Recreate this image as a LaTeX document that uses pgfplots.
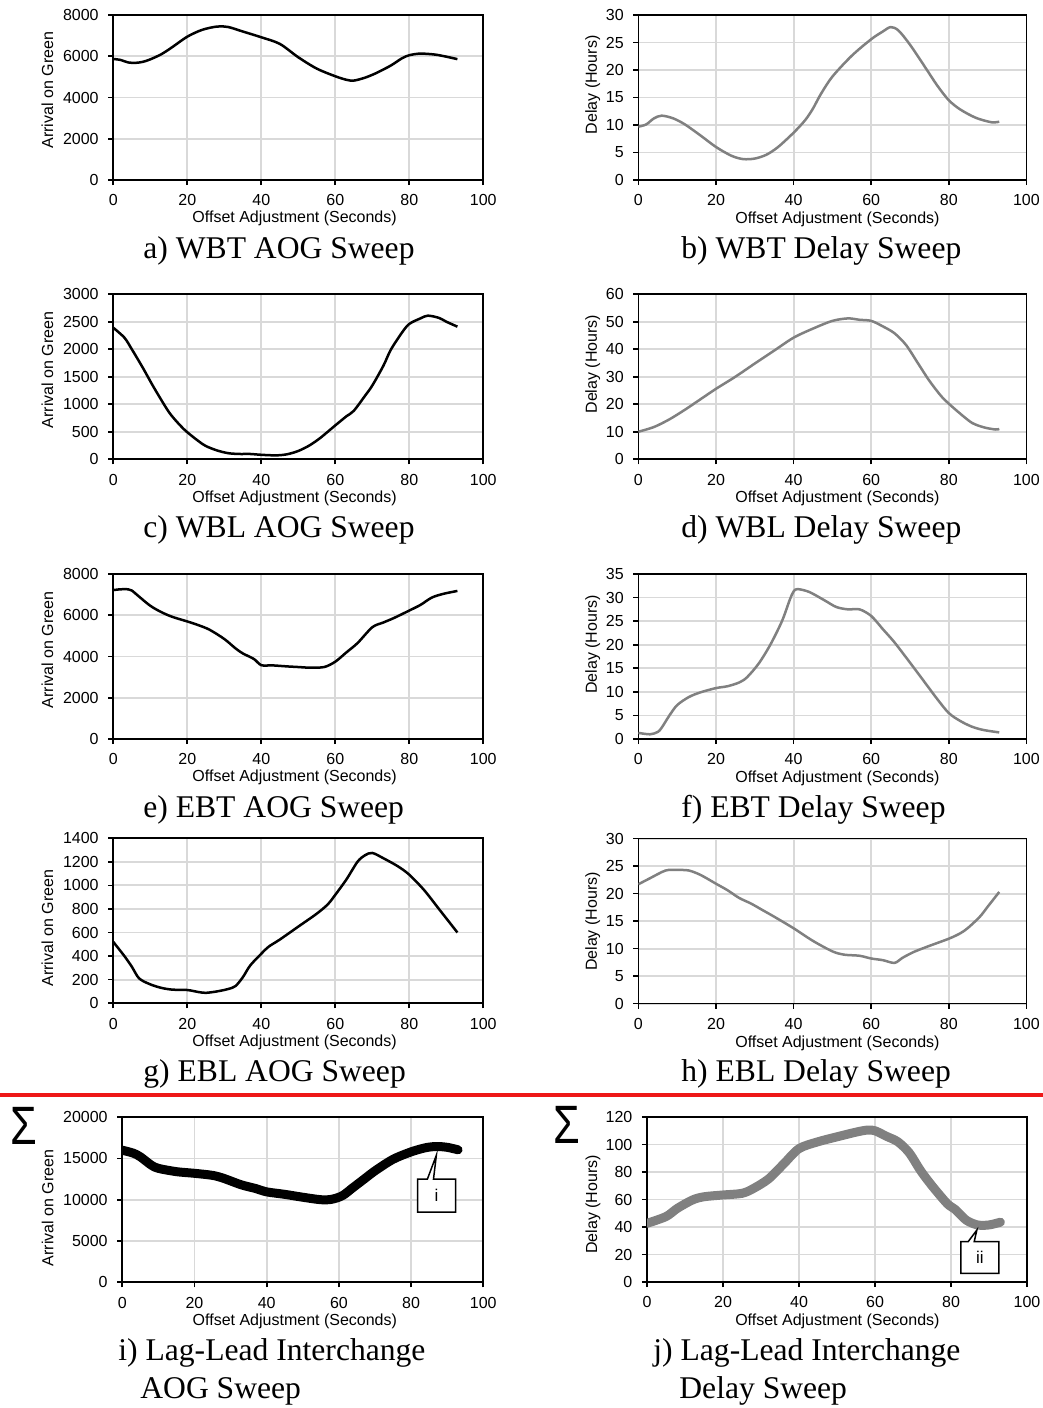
\documentclass[border=0pt]{standalone}
\usepackage{fontspec}
\setmainfont{Liberation Serif}
\newfontfamily\arial{Liberation Sans}
\usepackage{pgfplots}
\pgfplotsset{compat=1.18}

\definecolor{gridgray}{RGB}{217,217,217}
\definecolor{delaygray}{RGB}{128,128,128}
\definecolor{divider}{RGB}{238,24,24}

\pgfplotsset{
  panel/.style={
    scale only axis, anchor=south west,
    width=185pt, height=82.5pt,
    xmin=0, xmax=100, xtick={0,20,...,100},
    grid=major, major grid style={draw=gridgray, line width=0.9pt},
    axis line style={black, line width=0.85pt},
    tick align=outside, tick pos=left,
    major tick length=2.6pt, tick style={black, line width=0.85pt},
    ticklabel style={font=\arial\fontsize{8}{9}\selectfont},
    xticklabel style={yshift=-1.2pt},
    yticklabel style={xshift=-1.2pt},
    label style={font=\arial\fontsize{8}{9}\selectfont},
    /pgf/number format/assume math mode=true,
    /pgf/number format/set thousands separator={},
    scaled y ticks=false,
    xlabel={Offset Adjustment (Seconds)},
    xlabel style={at={(axis description cs:0.49,-0.235)}, anchor=center},
  },
  ylab/.style 2 args={ylabel style={at={(axis description cs:#1,#2)}, anchor=center}},
  xlab/.style 2 args={xlabel style={at={(axis description cs:#1,#2)}, anchor=center}},
  aog/.style={black, line width=1.25pt, smooth, tension=0.5, line join=round},
  dly/.style={delaygray, line width=1.25pt, smooth, tension=0.5, line join=round},
}
\tikzset{subcap/.style={anchor=base west, inner sep=0pt, font=\fontsize{15.8}{18}\selectfont}}

\begin{document}
\begin{tikzpicture}
\useasboundingbox (0,0) rectangle (521.5pt,-704pt);

% ---------- a) WBT AOG ----------
\begin{axis}[panel, at={(56.65pt,-90pt)}, ymin=0, ymax=8000, ytick={0,2000,...,8000},
  ylabel={Arrival on Green}, ylab={-0.178}{0.545}]
\addplot[aog] coordinates {
(0,5870) (2,5820) (4,5700) (6,5680) (8,5730) (10,5850) (13,6100) (16,6450)
(20,6950) (24,7280) (28,7440) (31,7420) (35,7200) (40,6920) (45,6600)
(50,5950) (55,5400) (60,5030) (63,4860) (65,4820) (68,4960) (71,5180)
(75,5550) (78,5900) (80,6050) (83,6130) (87,6080) (90,5980) (93,5860)};
\end{axis}
\node[subcap] at (71.5pt,-129pt) {a) WBT AOG Sweep};

% ---------- b) WBT Delay ----------
\begin{axis}[panel, at={(319.2pt,-90pt)}, width=194pt, ymin=0, ymax=30, ytick={0,5,...,30},
  ylabel={Delay (Hours)}, ylab={-0.118}{0.576}, xlab={0.513}{-0.24}]
\addplot[dly] coordinates {
(0,9.7) (2,10.1) (4,11.2) (6,11.7) (9,11.2) (12,10.1) (16,8.1) (20,6.0)
(24,4.4) (27,3.8) (30,3.9) (33,4.6) (36,6.0) (40,8.6) (43,10.9) (45,13.0)
(47,15.6) (50,18.8) (55,22.6) (60,25.6) (63,27.0) (65,27.8) (67,27.2) (70,24.6)
(74,20.4) (77,17.2) (80,14.5) (83,12.8) (87,11.3) (91,10.5) (93,10.6)};
\end{axis}
\node[subcap] at (340.5pt,-129pt) {b) WBT Delay Sweep};

% ---------- c) WBL AOG ----------
\begin{axis}[panel, at={(56.65pt,-229.6pt)}, ymin=0, ymax=3000, ytick={0,500,...,3000},
  ylabel={Arrival on Green}, ylab={-0.178}{0.542}]
\addplot[aog] coordinates {
(0,2390) (3,2210) (5,2000) (8,1660) (11,1300) (15,860) (18,620) (20,490)
(23,330) (25,240) (28,160) (31,110) (34,95) (37,95) (40,80) (44,70) (47,90)
(50,150) (53,250) (56,390) (60,615) (63,780) (65,880) (68,1150) (70,1340)
(73,1700) (75,1990) (78,2300) (80,2460) (83,2560) (85,2610) (88,2570)
(90,2500) (93,2410)};
\end{axis}
\node[subcap] at (71.5pt,-268.5pt) {c) WBL AOG Sweep};

% ---------- d) WBL Delay ----------
\begin{axis}[panel, at={(319.2pt,-229.6pt)}, width=194pt, ymin=0, ymax=60, ytick={0,10,...,60},
  ylabel={Delay (Hours)}, ylab={-0.118}{0.576}, xlab={0.513}{-0.24}]
\addplot[dly] coordinates {
(0,10.0) (4,11.7) (8,14.5) (12,18) (16,21.8) (20,25.6) (25,30) (30,34.8)
(35,39.5) (40,44.2) (45,47.5) (50,50.3) (54,51.2) (57,50.7) (60,50.3)
(63,48.3) (66,45.8) (69,41.5) (72,35) (75,28.5) (78,23) (80,20.2) (83,16.5)
(86,13.2) (89,11.6) (92,10.8) (93,11.0)};
\end{axis}
\node[subcap] at (340.5pt,-268.5pt) {d) WBL Delay Sweep};

% ---------- e) EBT AOG ----------
\begin{axis}[panel, at={(56.65pt,-369.5pt)}, ymin=0, ymax=8000, ytick={0,2000,...,8000},
  ylabel={Arrival on Green}, ylab={-0.178}{0.54}]
\addplot[aog] coordinates {
(0,7220) (2,7260) (4,7260) (5,7200) (7,6900) (10,6460) (13,6150) (16,5920)
(20,5700) (23,5520) (26,5300) (30,4850) (33,4400) (35,4150) (38,3880)
(40,3580) (43,3570) (47,3520) (50,3490) (53,3460) (57,3490) (60,3750)
(63,4200) (66,4650) (70,5420) (73,5650) (76,5880) (80,6230) (83,6500)
(86,6850) (89,7030) (93,7180)};
\end{axis}
\node[subcap] at (71.5pt,-408.5pt) {e) EBT AOG Sweep};

% ---------- f) EBT Delay ----------
\begin{axis}[panel, at={(319.2pt,-369.5pt)}, width=194pt, ymin=0, ymax=35, ytick={0,5,...,35},
  ylabel={Delay (Hours)}, ylab={-0.118}{0.573}, xlab={0.513}{-0.24}]
\addplot[dly] coordinates {
(0,1.3) (3,1.0) (5,1.5) (6,2.4) (8,5.0) (10,7.2) (13,8.9) (16,9.9) (20,10.8)
(23,11.2) (26,12.0) (28,13.1) (31,16.0) (34,20.0) (37,25.0) (39,29.5)
(40,31.3) (41,31.8) (44,31.2) (48,29.4) (51,28.0) (54,27.5) (57,27.5)
(60,26.1) (63,23.3) (66,20.5) (70,16.2) (74,11.8) (77,8.5) (80,5.5)
(83,3.8) (86,2.6) (89,1.9) (93,1.4)};
\end{axis}
\node[subcap] at (340.5pt,-408.5pt) {f) EBT Delay Sweep};

% ---------- g) EBL AOG ----------
\begin{axis}[panel, at={(56.65pt,-501.6pt)}, ymin=0, ymax=1400, ytick={0,200,...,1400},
  ylabel={Arrival on Green}, ylab={-0.178}{0.455}]
\addplot[aog] coordinates {
(0,520) (3,400) (5,310) (7,210) (10,160) (13,130) (16,115) (20,112) (23,95)
(25,88) (28,100) (31,120) (33,145) (35,220) (37,320) (40,420) (42,480)
(45,540) (50,650) (55,760) (58,840) (60,920) (63,1050) (66,1200) (68,1255)
(70,1275) (73,1230) (77,1160) (80,1090) (84,960) (88,800) (90,720) (93,600)};
\end{axis}
\node[subcap] at (71.5pt,-540.5pt) {g) EBL AOG Sweep};

% ---------- h) EBL Delay ----------
\begin{axis}[panel, at={(319.2pt,-501.8pt)}, width=194pt, ymin=0, ymax=30, ytick={0,5,...,30},
  ylabel={Delay (Hours)}, ylab={-0.118}{0.497}, xlab={0.513}{-0.24}]
\addplot[dly] coordinates {
(0,21.7) (3,22.8) (7,24.2) (10,24.3) (13,24.2) (16,23.4) (20,21.8) (23,20.6)
(26,19.2) (29,18.2) (32,17.0) (35,15.8) (40,13.7) (45,11.4) (50,9.5)
(53,8.9) (57,8.7) (60,8.2) (63,7.9) (66,7.4) (68,8.3) (71,9.4) (75,10.5)
(80,11.8) (83,12.8) (85,13.8) (88,15.8) (90,17.6) (93,20.3)};
\end{axis}
\node[subcap] at (340.5pt,-540.5pt) {h) EBL Delay Sweep};

% ---------- divider ----------
\draw[divider, line width=1.8pt] (0pt,-547.5pt) -- (521.5pt,-547.5pt);

% ---------- i) Interchange AOG ----------
\node[font=\arial\fontsize{27}{27}\selectfont, xscale=0.8] at (11.75pt,-563pt) {Σ};
\begin{axis}[panel, at={(61.15pt,-641.1pt)}, width=180.5pt, ymin=0, ymax=20000, ytick={0,5000,...,20000},
  ylabel={Arrival on Green}, ylab={-0.207}{0.45}, xlab={0.478}{-0.24}]
\addplot[black, line width=4.5pt, smooth, tension=0.5, line join=round, line cap=round] coordinates {
(0,16000) (3,15650) (5,15200) (8,14200) (10,13800) (15,13400) (20,13200)
(25,12950) (28,12600) (33,11800) (37,11350) (40,10950) (45,10650) (50,10300)
(55,10000) (58,10050) (61,10500) (64,11500) (67,12500) (70,13500) (75,14900)
(80,15800) (84,16300) (87,16450) (90,16350) (93,16050)};
\draw[black, line width=0.75pt, fill=white]
  (axis cs:84.5,12485) -- (axis cs:87.0,15394) -- (axis cs:86.2,12485)
  -- (axis cs:92.3,12485) -- (axis cs:92.3,8485) -- (axis cs:81.8,8485)
  -- (axis cs:81.8,12485) -- cycle;
\node[font=\arial\fontsize{8.5}{9}\selectfont] at (axis cs:87.05,10485) {i};
\end{axis}
\node[subcap] at (59pt,-680pt) {i) Lag-Lead Interchange};
\node[subcap] at (70pt,-699.3pt) {AOG Sweep};

% ---------- j) Interchange Delay ----------
\node[font=\arial\fontsize{27}{27}\selectfont, xscale=0.8] at (283.25pt,-562.5pt) {Σ};
\begin{axis}[panel, at={(323.5pt,-641pt)}, width=190pt, ymin=0, ymax=120, ytick={0,20,...,120},
  ylabel={Delay (Hours)}, ylab={-0.142}{0.47}, xlab={0.501}{-0.24}]
\addplot[delaygray, line width=4.5pt, smooth, tension=0.5, line join=round, line cap=round] coordinates {
(0,42.7) (5,47.6) (8,53.6) (12,59.7) (15,62) (20,63.3) (25,64.5) (28,68)
(32,75) (36,86) (40,97) (45,102) (50,105.6) (55,109) (58,110.5) (60,110)
(63,106) (66,102) (69,94) (72,81) (75,70) (79,57) (81,53) (84,45)
(87,41.5) (90,41.5) (93,43.5)};
\draw[black, line width=0.75pt, fill=white]
  (axis cs:84.5,29.3) -- (axis cs:86.8,37.8) -- (axis cs:86.1,29.3)
  -- (axis cs:92.6,29.3) -- (axis cs:92.6,6.3) -- (axis cs:82.6,6.3)
  -- (axis cs:82.6,29.3) -- cycle;
\node[font=\arial\fontsize{8.5}{9}\selectfont] at (axis cs:87.6,17.8) {ii};
\end{axis}
\node[subcap] at (326.5pt,-680pt) {j) Lag-Lead Interchange};
\node[subcap] at (339.5pt,-699.3pt) {Delay Sweep};
\end{tikzpicture}
\end{document}
